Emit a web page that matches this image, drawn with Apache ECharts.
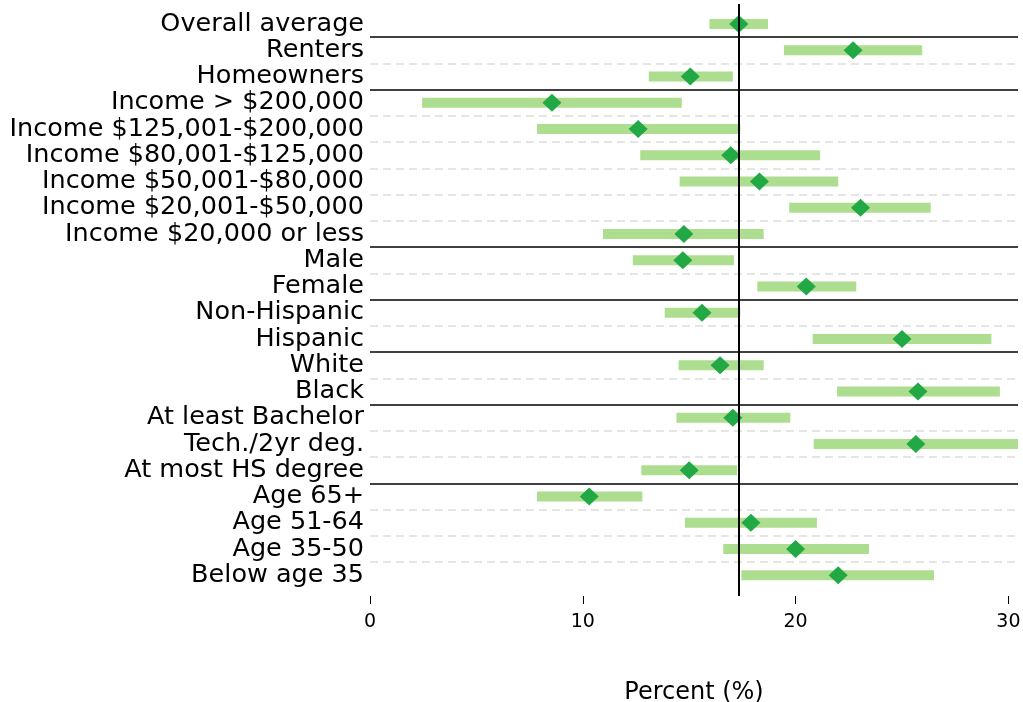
<!DOCTYPE html>
<html>
<head>
<meta charset="utf-8">
<script src="https://cdn.jsdelivr.net/npm/echarts@6/dist/echarts.min.js"></script>
<style>html,body{margin:0;padding:0;background:#fff}#c{width:1023px;height:702px}</style>
</head>
<body>
<div id="c"></div>
<script>
const categories = ['Overall average','Renters','Homeowners','Income > $200,000','Income $125,001-$200,000','Income $80,001-$125,000','Income $50,001-$80,000','Income $20,001-$50,000','Income $20,000 or less','Male','Female','Non-Hispanic','Hispanic','White','Black','At least Bachelor','Tech./2yr deg.','At most HS degree','Age 65+','Age 51-64','Age 35-50','Below age 35'];
const groups = ['overall','tenure','tenure','income','income','income','income','income','income','sex','sex','ethnicity','ethnicity','race','race','education','education','education','age','age','age','age'];
const estimate = [17.33,22.7,15.05,8.55,12.6,16.95,18.3,23.05,14.75,14.7,20.5,15.6,25.0,16.45,25.75,17.05,25.65,15.0,10.3,17.9,20.0,22.0];
const lower = [15.95,19.45,13.1,2.45,7.85,12.7,14.55,19.7,10.95,12.35,18.2,13.85,20.8,14.5,21.95,14.4,20.85,12.75,7.85,14.8,16.6,17.45];
const upper = [18.7,25.95,17.05,14.65,17.4,21.15,22.0,26.35,18.5,17.1,22.85,17.4,29.2,18.5,29.6,19.75,30.8,17.25,12.8,21.0,23.45,26.5];
const xTicks = [0,10,20,30];
const xMax = 30.45;

const sepLines = [];
for (let i = 1; i < categories.length; i++) {
  const solid = groups[i] !== groups[i-1];
  sepLines.push({
    yAxis: i,
    lineStyle: solid ? {color:'#000', width:1.6, type:'solid'} : {color:'#dddddd', width:1.6, type:[8,5]}
  });
}

const chart = echarts.init(document.getElementById('c'));
chart.setOption({
  animation: false,
  textStyle: {fontFamily: 'DejaVu Sans'},
  grid: [
    {left: 370, right: 5, top: 10.9, height: 577.5, containLabel:false, outerBoundsMode:'none'},
    {left: 370, right: 5, top: 4, height: 592, containLabel:false, outerBoundsMode:'none'}
  ],
  xAxis: [
    {type:'value', gridIndex:0, min:0, max:xMax, show:false},
    {type:'value', gridIndex:1, min:0, max:xMax, interval:10,
     axisLine:{show:false}, splitLine:{show:false},
     axisTick:{show:true, length:8, customValues: xTicks, lineStyle:{color:'#000', width:1}},
     axisLabel:{color:'#000', fontSize:19, margin:17, fontFamily:'DejaVu Sans', customValues: xTicks,
       formatter: v => String(v)},
     name:'Percent (%)', nameLocation:'middle', nameGap:85,
     nameTextStyle:{color:'#000', fontSize:24, fontFamily:'DejaVu Sans'}}
  ],
  yAxis: [
    {type:'category', gridIndex:0, data:categories, inverse:true,
     axisLine:{show:false}, axisTick:{show:false}, splitLine:{show:false},
     axisLabel:{color:'#000', fontSize:25.5, margin:6, interval:0, padding:[4,0,0,0], fontFamily:'DejaVu Sans'}},
    {type:'value', gridIndex:0, min:0, max:categories.length, inverse:true, show:false},
    {type:'value', gridIndex:1, min:0, max:1, show:false}
  ],
  series: [
    {type:'line', xAxisIndex:0, yAxisIndex:1, data:[], z:1, silent:true,
     markLine:{symbol:['none','none'], silent:true, label:{show:false}, data: sepLines}},
    {type:'bar', xAxisIndex:0, yAxisIndex:0, stack:'ci', barWidth:10, silent:true,
     itemStyle:{color:'rgba(0,0,0,0)'}, data: lower, z:2},
    {type:'bar', xAxisIndex:0, yAxisIndex:0, stack:'ci', barWidth:10, silent:true,
     itemStyle:{color:'#addd8e'}, data: upper.map((u,i)=>u-lower[i]), z:2},
    {type:'line', xAxisIndex:1, yAxisIndex:2, data:[], z:3, silent:true,
     markLine:{symbol:['none','none'], silent:true, label:{show:false},
       lineStyle:{color:'#000', width:2, type:'solid'}, data:[{xAxis: estimate[0]}]}},
    {type:'scatter', xAxisIndex:0, yAxisIndex:0, symbol:'diamond', symbolSize:[19,18], z:4,
     itemStyle:{color:'#22a844', opacity:1},
     data: estimate.map((v,i)=>[v,i])}
  ]
});
</script>
</body>
</html>
